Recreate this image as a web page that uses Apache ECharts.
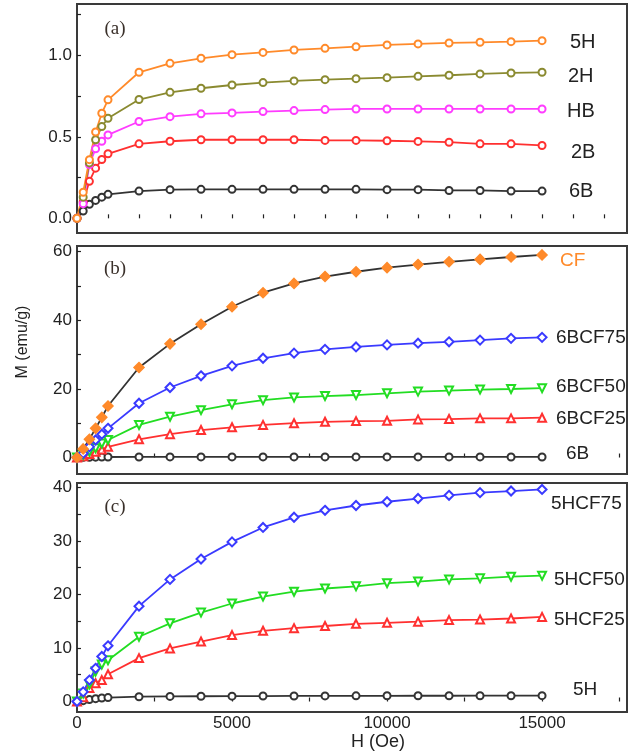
<!DOCTYPE html>
<html>
<head>
<meta charset="utf-8">
<script src="https://cdn.jsdelivr.net/npm/echarts@6/dist/echarts.min.js"></script>
<style>
html,body{margin:0;padding:0;background:#fff;}
#chart{width:628px;height:755px;}
</style>
</head>
<body>
<div id="chart"></div>
<script>
// ---------- data ----------
const H = [0,200,400,600,800,1000,2000,3000,4000,5000,6000,7000,8000,9000,10000,11000,12000,13000,14000,15000];

// panel (a)
const m5H = [0,0.16,0.36,0.53,0.645,0.727,0.896,0.951,0.982,1.004,1.018,1.033,1.043,1.053,1.064,1.07,1.076,1.08,1.084,1.09];
const m2H = [0,0.13,0.34,0.482,0.563,0.614,0.729,0.773,0.798,0.818,0.833,0.843,0.851,0.857,0.863,0.871,0.878,0.886,0.892,0.896];
const mHB = [0,0.09,0.33,0.427,0.473,0.512,0.594,0.624,0.641,0.647,0.655,0.661,0.667,0.671,0.671,0.671,0.671,0.671,0.671,0.671];
const m2B = [0,0.10,0.227,0.308,0.361,0.396,0.457,0.473,0.482,0.482,0.482,0.482,0.478,0.478,0.476,0.472,0.467,0.457,0.457,0.447];
const m6B = [0,0.045,0.086,0.11,0.13,0.147,0.167,0.176,0.178,0.178,0.178,0.178,0.178,0.178,0.176,0.176,0.171,0.171,0.167,0.167];

// panel (b)
const mCF     = [0,2.5,5.3,8.5,11.7,15.0,26.2,33.1,38.8,43.9,48.0,50.7,52.7,54.1,55.3,56.2,57.0,57.7,58.4,59.0];
const m6BCF75 = [0,1.2,3.1,5.1,6.8,8.5,15.8,20.4,23.8,26.7,28.9,30.4,31.5,32.2,32.8,33.3,33.7,34.2,34.7,35.0];
const m6BCF50 = [0,0.8,1.7,2.7,4.1,5.1,9.5,11.9,13.8,15.5,16.7,17.5,17.9,18.2,18.7,19.2,19.5,19.8,19.95,20.2];
const m6BCF25 = [0,0.4,1.0,1.7,2.3,3.1,5.3,6.8,8.0,8.8,9.5,10.0,10.4,10.6,10.7,11.1,11.2,11.4,11.4,11.6];

// panel (c)
const m5HCF75 = [0,1.8,4.0,6.2,8.4,10.4,17.8,22.8,26.6,29.8,32.5,34.4,35.7,36.6,37.3,37.9,38.5,39.0,39.3,39.6];
const m5HCF50 = [0,1.5,3.2,5.6,6.9,7.7,12.1,14.6,16.6,18.3,19.6,20.5,21.1,21.5,22.1,22.4,22.8,23.0,23.3,23.5];
const m5HCF25 = [0,0.8,2.5,3.4,4.0,5.1,8.1,9.9,11.2,12.4,13.2,13.7,14.1,14.5,14.7,14.9,15.2,15.3,15.5,15.8];

// tick values / labels
const xTicksA = [0,1000,2000,3000,4000,5000,6000,7000,8000,9000,10000,11000,12000,13000,14000,15000,16000,17000];
const xTicksBC = [0,2500,5000,7500,10000,12500,15000,17500];
const xLabels = [0,5000,10000,15000];
const yTicksA = [0,0.25,0.5,0.75,1.0,1.25];
const yLabelsA = [0,0.5,1.0];
const yTicksB = [0,10,20,30,40,50,60];
const yLabelsB = [0,20,40,60];
const yTicksC = [0,5,10,15,20,25,30,35,40];
const yLabelsC = [0,10,20,30,40];

const namesA = ['5H','2H','HB','2B','6B'];
const namesB = ['CF','6BCF75','6BCF50','6BCF25','6B'];
const namesC = ['5HCF75','5HCF50','5HCF25','5H'];
const panelTags = ['(a)','(b)','(c)'];
const xTitle = 'H (Oe)';
const yTitle = 'M (emu/g)';

// ---------- chart ----------
const chart = echarts.init(document.getElementById('chart'), null, {renderer:'canvas'});
const pairs = arr => H.map((h,i)=>[h,arr[i]]);
const FONT = 'Liberation Sans';
const tickCol = '#222';

function grid(top,height){
  return {left:77, top:top, width:550, height:height, show:true, borderColor:'#3a3a3a', borderWidth:2, backgroundColor:'transparent'};
}
function xAxis(gi, ticks, labels){
  return {type:'value', gridIndex:gi, min:0, max:17740, splitLine:{show:false},
    axisLine:{show:false},
    axisTick:{show:true, inside:true, length:4, customValues:ticks, lineStyle:{color:tickCol,width:1.2}},
    axisLabel: labels ? {show:true, customValues:labels, margin:3, fontFamily:FONT, fontSize:17, color:'#222', formatter:v=>String(v)} : {show:false}
  };
}
function yAxis(gi,min,max,ticks,labels,fmt){
  return {type:'value', gridIndex:gi, min:min, max:max, splitLine:{show:false},
    axisLine:{show:false},
    axisTick:{show:true, inside:true, length:4, customValues:ticks, lineStyle:{color:tickCol,width:1.2}},
    axisLabel:{show:true, customValues:labels, margin:5, fontFamily:FONT, fontSize:17, color:'#222', formatter:fmt}
  };
}
function ser(name, gi, arr, color, symbol, opt){
  opt = opt || {};
  return Object.assign({
    name:name, type:'line', xAxisIndex:gi, yAxisIndex:gi, data:pairs(arr),
    symbol:symbol, symbolSize:7, showSymbol:true,
    lineStyle:{color:opt.lineColor||color, width:1.8},
    itemStyle:{color:color, borderColor:color, borderWidth:1.5},
    emphasis:{disabled:true}, animation:false
  }, opt.extra||{});
}

const orange='#ff8a2a', olive='#8a8a30', magenta='#ff3cff', red='#ff3030', black='#333333', blue='#3a3aff', green='#22dd22';

const series = [
  // (a)
  ser(namesA[4],0,m6B,black,'emptyCircle'),
  ser(namesA[3],0,m2B,red,'emptyCircle'),
  ser(namesA[2],0,mHB,magenta,'emptyCircle'),
  ser(namesA[1],0,m2H,olive,'emptyCircle'),
  ser(namesA[0],0,m5H,orange,'emptyCircle'),
  // (b)
  ser(namesB[4],1,m6B,black,'emptyCircle'),
  ser(namesB[3],1,m6BCF25,red,'emptyTriangle',{extra:{symbolSize:8}}),
  ser(namesB[2],1,m6BCF50,green,'emptyTriangle',{extra:{symbolSize:8, symbolRotate:180}}),
  ser(namesB[1],1,m6BCF75,blue,'emptyDiamond',{extra:{symbolSize:9}}),
  ser(namesB[0],1,mCF,orange,'diamond',{lineColor:'#333', extra:{symbolSize:10}}),
  // (c)
  ser(namesC[3],2,m5H,black,'emptyCircle'),
  ser(namesC[2],2,m5HCF25,red,'emptyTriangle',{extra:{symbolSize:8}}),
  ser(namesC[1],2,m5HCF50,green,'emptyTriangle',{extra:{symbolSize:8, symbolRotate:180}}),
  ser(namesC[0],2,m5HCF75,blue,'emptyDiamond',{extra:{symbolSize:9}})
];

function txt(text,x,y,size,opts){
  opts = opts||{};
  return {type:'text', x:x, y:y, rotation:opts.rot||0, silent:true, z:100,
    style:{text:text, fill:opts.color||'#222', font:(opts.weight||'normal')+' '+size+'px '+(opts.family||FONT),
      align:opts.align||'left', verticalAlign:'middle'}};
}

const graphic = [
  txt(panelTags[0],115,29.5,19,{align:'center',family:'Liberation Serif',color:'#3a302a'}),
  txt(panelTags[1],115,269.5,19,{align:'center',family:'Liberation Serif',color:'#3a302a'}),
  txt(panelTags[2],115,507.5,19,{align:'center',family:'Liberation Serif',color:'#3a302a'}),
  txt(namesA[0],570,42.5,20), txt(namesA[1],568,76,20), txt(namesA[2],567,111,20),
  txt(namesA[3],571,152,20), txt(namesA[4],569,191.5,20),
  txt(namesB[0],560,261,19,{color:orange}), txt(namesB[1],556,338,19), txt(namesB[2],556,386.5,19),
  txt(namesB[3],556,418.5,19), txt(namesB[4],566,453.5,19),
  txt(namesC[0],551,503.5,19), txt(namesC[1],554,579.5,19), txt(namesC[2],554,619.5,19),
  txt(namesC[3],573,690,19),
  txt(xTitle,378,742,18,{align:'center'}),
  txt(yTitle,23,342,16,{align:'center',rot:Math.PI/2})
];

chart.setOption({
  animation:false,
  backgroundColor:'#fff',
  grid:[grid(4,229), grid(246,228), grid(483,229)],
  xAxis:[xAxis(0,xTicksA,null), xAxis(1,xTicksBC,null), xAxis(2,xTicksBC,xLabels)],
  yAxis:[
    yAxis(0,-0.090,1.315,yTicksA,yLabelsA,v=>v.toFixed(1)),
    yAxis(1,-4.8,61.6,yTicksB,yLabelsB,v=>String(v)),
    yAxis(2,-1.96,40.8,yTicksC,yLabelsC,v=>String(v))
  ],
  series:series,
  graphic:graphic
});
</script>
</body>
</html>
